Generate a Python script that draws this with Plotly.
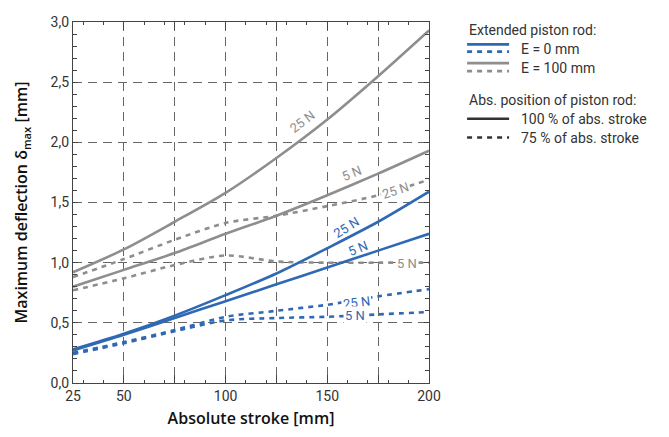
import plotly.graph_objects as go

# ---------------- data ----------------
stroke = [25, 50, 75, 100, 125, 150, 175, 200]

e100_full_25N = [0.92, 1.11, 1.34, 1.58, 1.87, 2.19, 2.55, 2.93]
e100_full_5N = [0.80, 0.94, 1.08, 1.24, 1.39, 1.56, 1.74, 1.93]
e100_75_25N = [0.88, 1.03, 1.19, 1.33, 1.39, 1.47, 1.56, 1.69]
e100_75_5N = [0.77, 0.87, 0.98, 1.06, 1.01, 1.00, 1.00, 1.00]

e0_full_25N = [0.28, 0.41, 0.56, 0.73, 0.91, 1.12, 1.34, 1.59]
e0_full_5N = [0.27, 0.40, 0.54, 0.68, 0.82, 0.96, 1.10, 1.24]
e0_75_25N = [0.25, 0.34, 0.44, 0.55, 0.60, 0.65, 0.72, 0.78]
e0_75_5N = [0.24, 0.33, 0.43, 0.52, 0.54, 0.55, 0.57, 0.59]

x_tickvals = [25, 50, 75, 100, 125, 150, 175, 200]
x_ticktext = ["25", "50", "", "100", "", "150", "", "200"]
y_tickvals = [0, 0.5, 1.0, 1.5, 2.0, 2.5, 3.0]
y_ticktext = ["0,0", "0,5", "1,0", "1,5", "2,0", "2,5", "3,0"]

BLUE = "#2f69b4"
GRAY = "#8e8e8e"
DARK = "#333333"

series = [
    (e100_full_25N, GRAY, "solid"),
    (e100_full_5N, GRAY, "solid"),
    (e100_75_25N, GRAY, "5px,5px"),
    (e100_75_5N, GRAY, "5px,5px"),
    (e0_full_25N, BLUE, "solid"),
    (e0_full_5N, BLUE, "solid"),
    (e0_75_25N, BLUE, "5px,5px"),
    (e0_75_5N, BLUE, "5px,5px"),
]

fig = go.Figure()
for ys, col, dash in series:
    fig.add_trace(go.Scatter(
        x=stroke, y=ys, mode="lines",
        line=dict(color=col, width=2.6, dash=dash, shape="spline", smoothing=0.8),
        showlegend=False, hoverinfo="skip",
    ))

# curve labels (x, y, text, colour, angle, white background)
labels = [
    (138.0, 2.17, "25 N", GRAY, -37, False),
    (162.0, 1.74, "5 N", GRAY, -22, False),
    (183.6, 1.60, "25 N", GRAY, -18, True),
    (189.0, 0.995, "5 N", GRAY, 0, True),
    (159.5, 1.29, "25 N", BLUE, -32, False),
    (165.0, 1.12, "5 N", BLUE, -22, False),
    (164.5, 0.673, "25 N", BLUE, -7, True),
    (163.5, 0.56, "5 N", BLUE, 0, True),
]
for x, y, t, c, a, bg in labels:
    fig.add_annotation(
        x=x, y=y, text=t, showarrow=False, textangle=a,
        font=dict(family="Roboto", size=13, color=c),
        bgcolor="white" if bg else None, borderpad=1,
    )

# ---------------- legend (drawn as decoration in paper space) ----------------
lx0, lx1, ltx = 1.107, 1.225, 1.253
def leg_line(y, col, dash):
    fig.add_shape(type="line", xref="paper", yref="paper", x0=lx0, x1=lx1, y0=y, y1=y,
                  line=dict(color=col, width=2.6, dash=dash))
def leg_text(y, t):
    fig.add_annotation(xref="paper", yref="paper", x=ltx if not t.endswith(":") else lx0,
                       y=y, text=t, showarrow=False, xanchor="left", yanchor="middle",
                       font=dict(family="Roboto", size=14, color=DARK))

leg_text(0.978, "Extended piston rod:")
leg_line(0.938, BLUE, "solid")
leg_line(0.918, BLUE, "5px,5px")
leg_text(0.926, "E = 0 mm")
leg_line(0.886, GRAY, "solid")
leg_line(0.864, GRAY, "5px,5px")
leg_text(0.872, "E = 100 mm")
leg_text(0.784, "Abs. position of piston rod:")
leg_line(0.732, DARK, "solid")
leg_text(0.731, "100 % of abs. stroke")
leg_line(0.680, DARK, "5px,5px")
leg_text(0.679, "75 % of abs. stroke")

axis_common = dict(
    showline=True, linecolor="#444", linewidth=1.2, mirror="allticks",
    ticks="inside", tickcolor="#444",
    showgrid=True, gridcolor="#666", gridwidth=1, griddash="9px,6px",
    zeroline=False, automargin=False,
    tickfont=dict(family="Roboto", size=14, color=DARK),
)

fig.update_xaxes(
    range=[25, 200], tickmode="array", tickvals=x_tickvals, ticktext=x_ticktext,
    ticklen=8,
    minor=dict(ticks="inside", ticklen=3, dtick=10, tick0=0, tickcolor="#444", showgrid=False),
    title=dict(text="Absolute stroke [mm]", standoff=16,
               font=dict(family="Open Sans", size=16, color="#111", weight=600)),
    **axis_common,
)
fig.update_yaxes(
    range=[0, 3.0], tickmode="array", tickvals=y_tickvals, ticktext=y_ticktext,
    ticklen=5,
    minor=dict(ticks="inside", ticklen=4, dtick=0.1, tick0=0, tickcolor="#444", showgrid=False),
    title=dict(text="Maximum deflection δ<sub>max</sub> [mm]", standoff=18,
               font=dict(family="Open Sans", size=16, color="#111", weight=600)),
    **axis_common,
)

# the page body has an 8 px margin, so the figure is sized/offset to compensate
fig.update_layout(
    width=653, height=421,
    margin=dict(l=65, r=232, t=14, b=46),
    plot_bgcolor="white", paper_bgcolor="white",
    showlegend=False,
)

fig.write_html("out.html")
